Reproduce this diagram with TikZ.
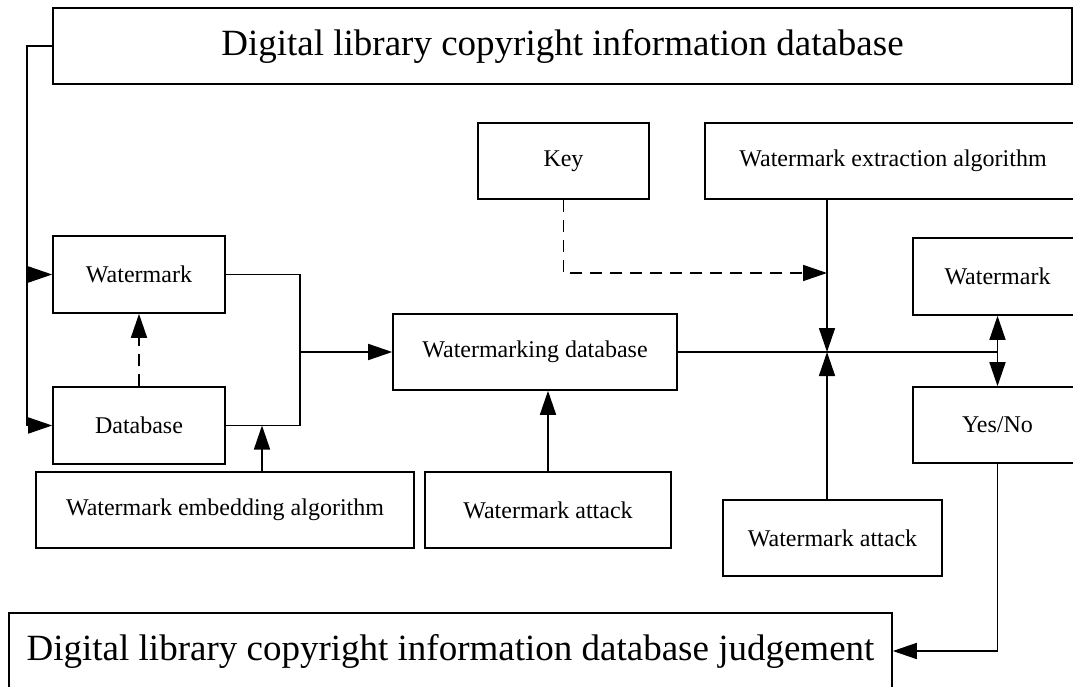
\documentclass[tikz,border=0pt]{standalone}
\usepackage{fontspec}
\setmainfont{Liberation Serif}
\usetikzlibrary{arrows.meta}

\tikzset{
	box/.style={draw, line width=1.6pt, inner sep=0pt, minimum height=76pt, font=\fontsize{24}{28}\selectfont},
	bigbox/.style={box, font=\fontsize{37}{44}\selectfont},
	arr/.style={-{Triangle[length=24pt, width=16pt]}},
	dashline/.style={dash pattern=on 12pt off 8pt}
}

\begin{document}
\begin{tikzpicture}[x=1pt, y=-1pt, line width=1.6pt]
	\useasboundingbox (0, 0) rectangle (1073, 687);

	\node[bigbox, minimum width=1019pt] at (562.5, 46) (topdb) {Digital library copyright information database};
	\node[box, minimum width=171pt] at (563.5, 161) (key) {Key};
	\node[box, minimum width=376pt] at (893, 161) (extract) {Watermark extraction algorithm};
	\node[box, minimum width=172pt, minimum height=77pt] at (139, 274.5) (wmL) {Watermark};
	\node[box, minimum width=172pt, minimum height=77pt] at (139, 425.5) (dbL) {Database};
	\node[box, minimum width=284pt] at (535, 352) (wmdb) {Watermarking database};
	\node[box, minimum width=169pt, minimum height=77pt] at (997.5, 276.5) (wmR) {Watermark};
	\node[box, minimum width=169pt] at (997.5, 425) (yesno) {Yes/No};
	\node[box, minimum width=378pt] at (225, 510) (embed) {Watermark embedding algorithm};
	\node[box, minimum width=246pt] at (548, 510) (attackM) {Watermark attack};
	\node[box, minimum width=219pt] at (832.5, 538) (attackR) {Watermark attack};
	\node[bigbox, minimum width=883pt] at (450.5, 651) (judge) {Digital library copyright information database judgement};

	\coordinate (lbus) at (27, 46);
	\coordinate (merge) at (300, 352);
	\coordinate (emb) at (262, 425.5);
	\coordinate (jx) at (827, 352);
	\coordinate (kx) at (827, 273);
	\coordinate (jr) at (997.5, 352);

	\draw[arr] (topdb.west) -- (lbus) |- (dbL.west);
	\draw[arr] (wmL.west -| lbus) -- (wmL.west);
	\draw[arr, dashline] (dbL.north) -- (wmL.south);

	\draw (wmL.east) -| (merge) |- (dbL.east);
	\draw[arr] (merge) -- (wmdb.west);
	\draw[arr] (embed.north -| emb) -- (emb);
	\draw[arr] (attackM.north) -- (attackM.north |- wmdb.south);

	\draw (wmdb.east) -- (jr);
	\draw[arr, dashline] (key.south) |- (kx);
	\draw[arr] (extract.south -| jx) -- (jx);
	\draw[arr] (attackR.north -| jx) -- (jx);
	\draw[arr] (jr) -- (wmR.south);
	\draw[arr] (jr) -- (yesno.north);
	\draw[arr] (yesno.south) |- (judge.east);
\end{tikzpicture}
\end{document}
